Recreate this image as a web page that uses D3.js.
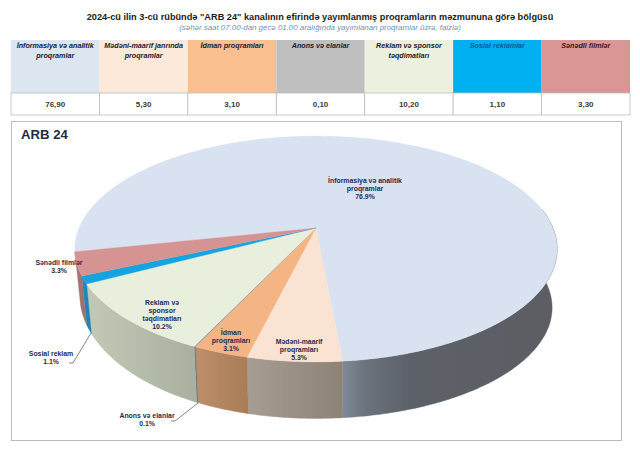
<!DOCTYPE html>
<html><head><meta charset="utf-8">
<script src="https://cdn.jsdelivr.net/npm/d3@7/dist/d3.min.js"></script>
<style>html,body{margin:0;padding:0;background:#fff}svg{display:block}text{font-family:"Liberation Sans",Arial,sans-serif}</style>
</head><body><div id="c"></div>
<script>
// ---- data ----
const tableHeaders = [["İnformasiya və analitik","proqramlar"],["Mədəni-maarif janrında","proqramlar"],["İdman proqramları"],["Anons və elanlar"],["Reklam və sponsor","təqdimatları"],["Sosial reklamlar"],["Sənədli filmlər"]];
const tableValues = ["76,90","5,30","3,10","0,10","10,20","1,10","3,30"];
const values = [76.9,5.3,3.1,0.1,10.2,1.1,3.3];
const pieLabels = [["İnformasiya və analitik","proqramlar","76.9%"],["Mədəni-maarif","proqramları","5.3%"],["İdman","proqramları","3.1%"],["Anons və elanlar","0.1%"],["Reklam və","sponsor","təqdimatları","10.2%"],["Sosial reklam","1.1%"],["Sənədli filmlər","3.3%"]];
// ---- styling & layout ----
const headFill = ["#dce6f1","#fde9d9","#fabf8f","#bfbfbf","#ebf1de","#00b0f0","#da9694"];
const headText = ["#1a1a2e","#1a1a2e","#1a1a2e","#1a1a2e","#1a1a2e","#0a5a9a","#3a1420"];
const topFill = ["#d9e2f0","#fae3d3","#f4b484","#9a9a9a","#e9efdd","#16a4e0","#d59392"];
const wallStops = [["#7f8a96","#6a727b","#5c6068","#5c5e63"],["#a89d94","#8d8276"],["#bd8f6c","#a97d58"],["#777777","#777777"],["#c4c9b6","#a9b0a0"],["#1d8fc6","#1a86b8"],["#ab7c7e","#9f7070"]];
const labelAt = [[365,180],[299,341],[231,332],[147,415],[162,302],[51,353],[59,262]];
const leaders = {3:[[198,403],[175,421],[171,421]],5:[[91,333],[73,363],[69,363]]};
const W=640,H=457;
const svg=d3.select("#c").append("svg").attr("width",W).attr("height",H);
const defs=svg.append("defs");

// titles
svg.append("text").attr("x",320).attr("y",19.5).attr("text-anchor","middle").attr("font-size",9.2).attr("font-weight","bold").attr("fill","#1c1c1c")
 .text('2024-cü ilin 3-cü rübündə "ARB 24" kanalının efirində yayımlanmış proqramların məzmununa görə bölgüsü');
svg.append("text").attr("x",320).attr("y",29.5).attr("text-anchor","middle").attr("font-size",7.9).attr("font-style","italic").attr("fill","#6f93b8")
 .text("(səhər saat 07.00-dan gecə 01.00 aralığında yayımlanan proqramlar üzrə, faizlə)");

// table
const col=d3.scaleBand().domain(d3.range(values.length)).range([11,630]);
const row=svg.append("g");
tableValues.forEach((v,i)=>{
  const x=col(i),w=col.bandwidth();
  row.append("rect").attr("x",x).attr("y",40).attr("width",w).attr("height",53).attr("fill",headFill[i]);
  row.append("rect").attr("x",x).attr("y",93).attr("width",w).attr("height",22).attr("fill","#fff").attr("stroke","#bdbdbd").attr("stroke-width",0.8);
  tableHeaders[i].forEach((t,j)=>row.append("text").attr("x",x+w/2).attr("y",47.5+j*10).attr("text-anchor","middle")
    .attr("font-size",7.2).attr("font-weight","bold").attr("font-style","italic").attr("fill",headText[i]).text(t));
  row.append("text").attr("x",x+w/2).attr("y",107).attr("text-anchor","middle").attr("font-size",8).attr("font-weight","bold").attr("fill","#3c3c3c").text(v);
});

// panel
svg.append("rect").attr("x",11.5).attr("y",121.5).attr("width",610).attr("height",319).attr("fill","#fff").attr("stroke","#bcbcbc").attr("stroke-width",1);
svg.append("text").attr("x",21).attr("y",139).attr("font-size",13.2).attr("font-weight","bold").attr("fill","#1f2a44").text("ARB 24");

// pie in perspective
const deg=Math.PI/180, k=0.186;
const topDisk={cx:316,cy:228,rx:237,ry:109,lift:0}, botDisk={cx:316,cy:287,rx:232,ry:107,lift:12};
const project=(a,d)=>{
  const u=Math.sin(a),v=-Math.cos(a),s=1/(1-k*v);
  return [d.cx+d.rx*u*s,d.cy+d.ry*v*s-d.lift*Math.pow(Math.max(0,-u),3)];
};
const startAngle=-102.1*deg;
const arcs=d3.pie().sort(null).startAngle(startAngle).endAngle(startAngle+2*Math.PI)(values);
const line=d3.line();
const sample=(a0,a1)=>{const n=Math.max(2,Math.ceil((a1-a0)/(0.5*deg)));return d3.range(n+1).map(i=>a0+(a1-a0)*i/n);};

// walls (front part of the rim only)
const wallMin=80*deg, wallMax=280*deg;
const walls=svg.append("g");
arcs.forEach((s,i)=>{
  const a0=Math.max(s.startAngle,wallMin),a1=Math.min(s.endAngle,wallMax);
  if(a1<=a0) return;
  const xa=project(a0,topDisk)[0],xb=project(a1,topDisk)[0];
  const grad=defs.append("linearGradient").attr("id","w"+i).attr("gradientUnits","userSpaceOnUse")
    .attr("x1",Math.min(xa,xb)).attr("x2",Math.max(xa,xb)).attr("y1",0).attr("y2",0);
  wallStops[i].forEach((c,j,all)=>{
    const off=i===0?[0,0.12,0.35,1][j]:j/(all.length-1);
    grad.append("stop").attr("offset",off).attr("stop-color",c);
  });
  const ang=sample(a0,a1);
  const pts=ang.map(a=>project(a,topDisk)).concat(ang.slice().reverse().map(a=>project(a,botDisk)));
  walls.append("path").attr("d",line(pts)+"Z").attr("fill",`url(#w${i})`).attr("stroke",`url(#w${i})`).attr("stroke-width",0.4);
});

// top face
const faces=svg.append("g");
arcs.forEach((s,i)=>{
  const pts=[[topDisk.cx,topDisk.cy]].concat(sample(s.startAngle,s.endAngle).map(a=>project(a,topDisk)));
  faces.append("path").attr("d",line(pts)+"Z").attr("fill",topFill[i]).attr("stroke",topFill[i]).attr("stroke-width",0.3);
});

// leaders
Object.entries(leaders).forEach(([i,p])=>svg.append("path").attr("d",line(p)).attr("fill","none").attr("stroke","#555").attr("stroke-width",0.7));

// labels
pieLabels.forEach((lines,i)=>{
  lines.forEach((t,j)=>svg.append("text").attr("x",labelAt[i][0]).attr("y",labelAt[i][1]+2.5+j*8.3).attr("text-anchor","middle")
    .attr("font-size",6.9).attr("font-weight","bold").attr("fill","#262b52").text(t));
});
</script></body></html>
